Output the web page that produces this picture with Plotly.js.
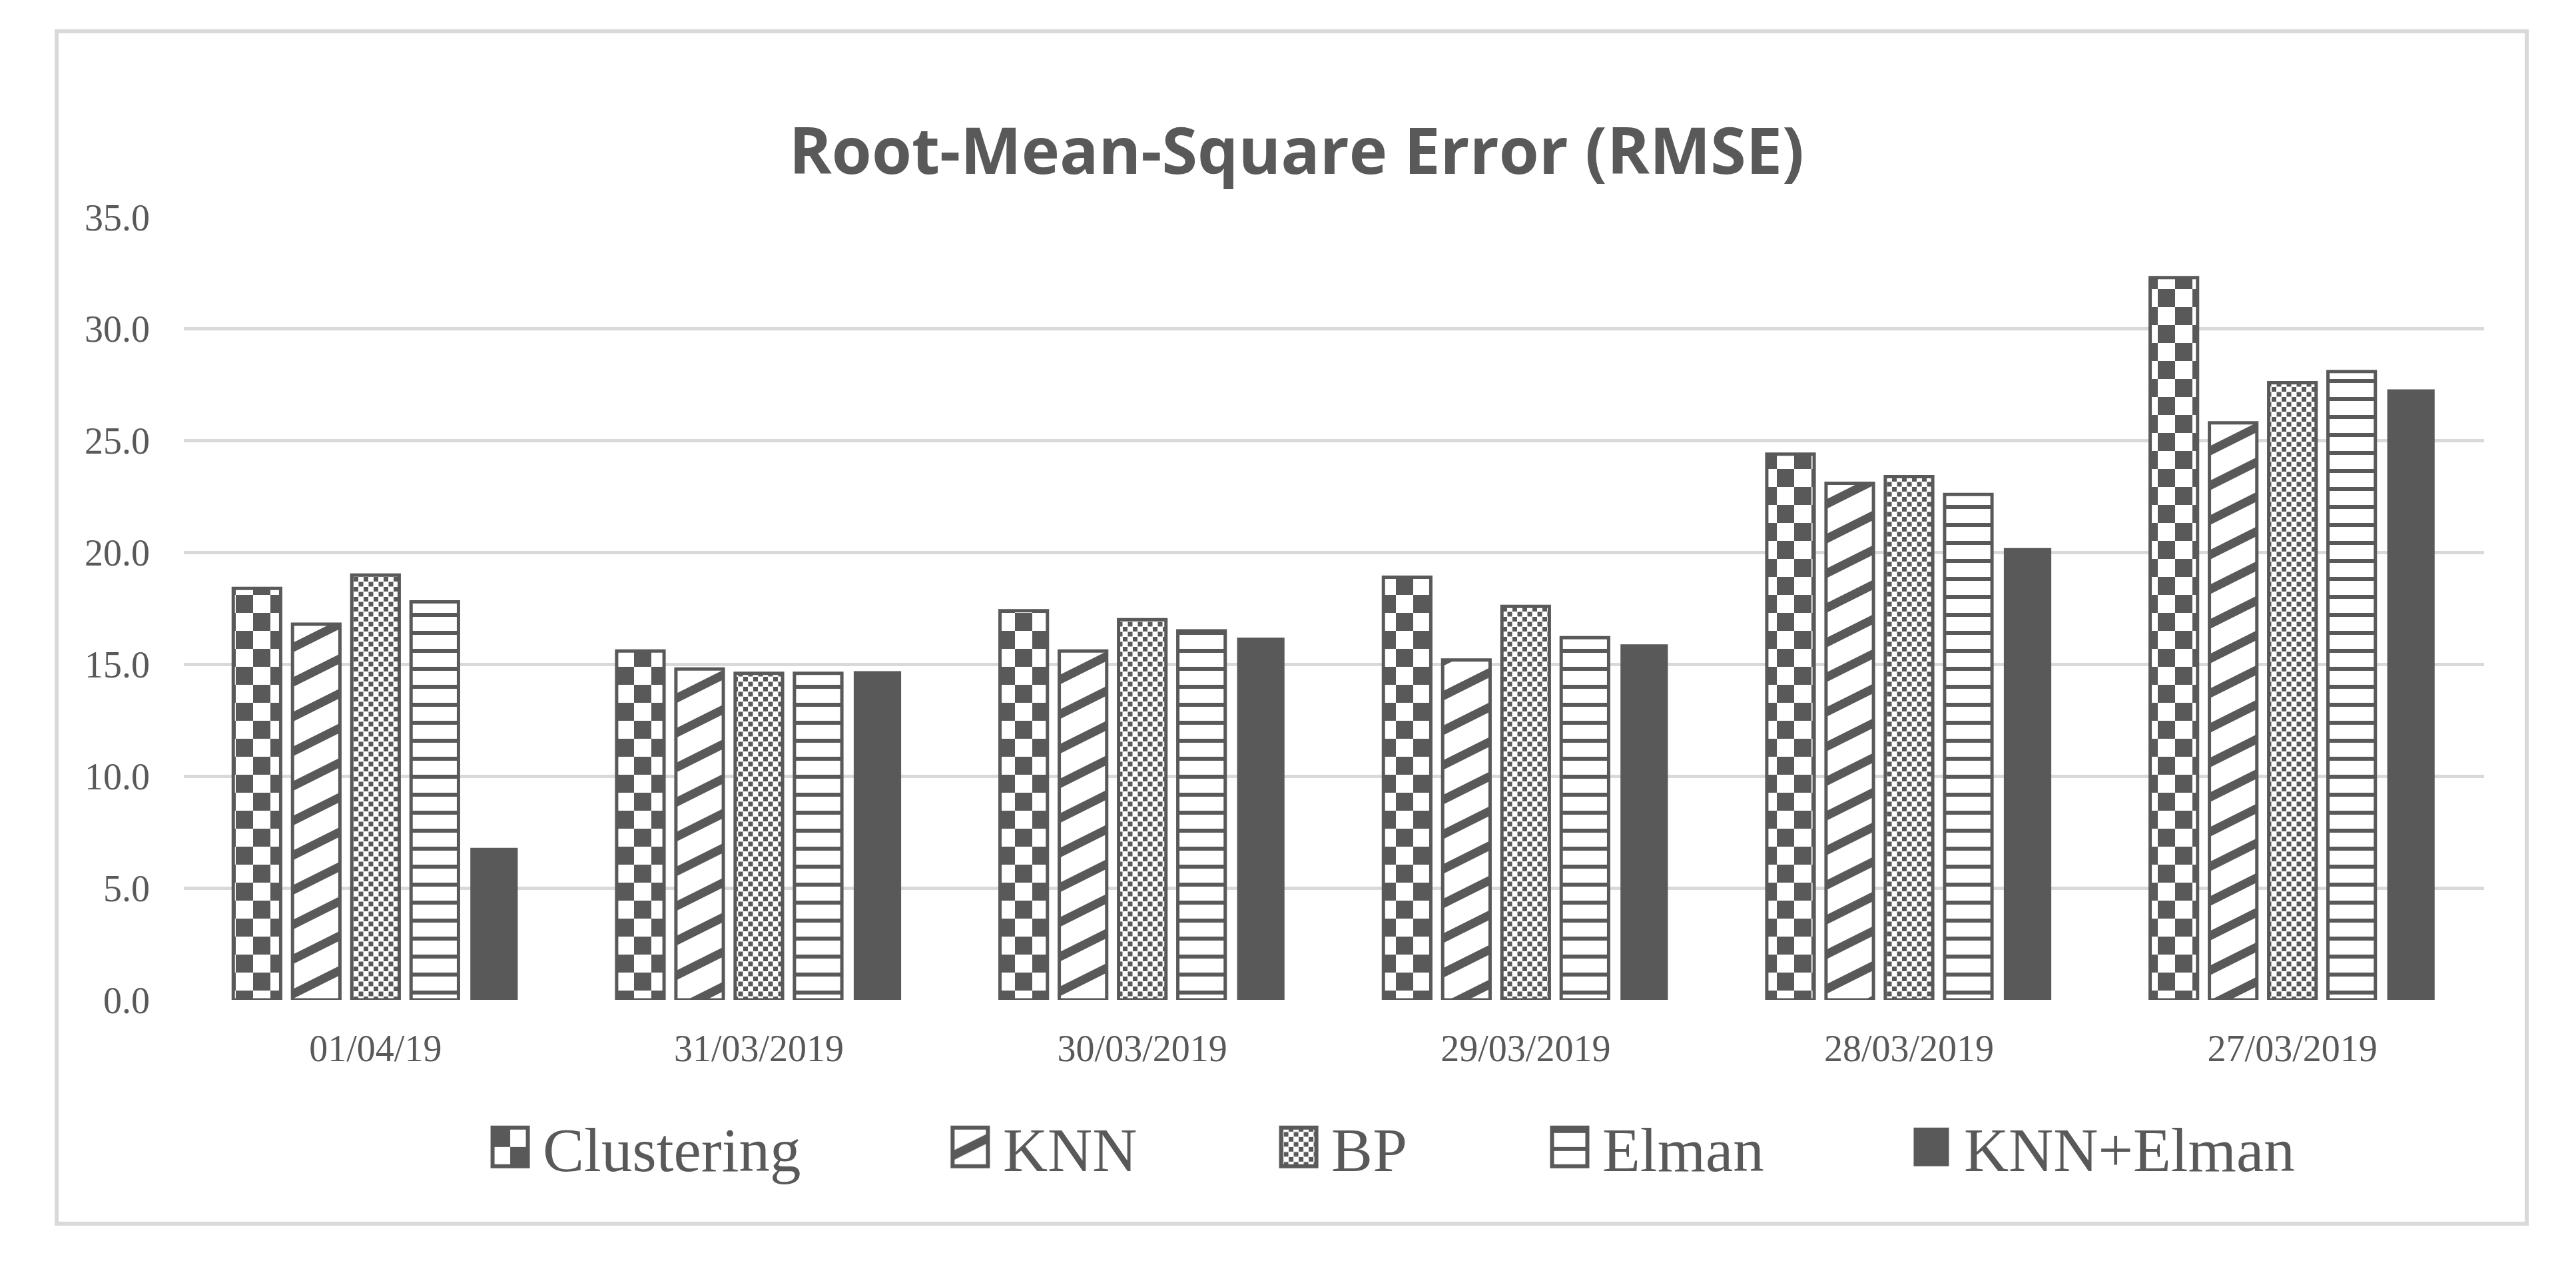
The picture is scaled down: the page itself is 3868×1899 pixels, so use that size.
<!DOCTYPE html>
<html><head><meta charset="utf-8">
<script src="https://cdn.plot.ly/plotly-3.0.1.min.js"></script>
<style>
html,body{margin:0;padding:0;background:#fff;}
#frame{position:absolute;left:82px;top:44px;width:3715px;height:1796px;border:6px solid #d9d9d9;box-sizing:border-box;}
#chart{width:3703px;height:1784px;}
</style></head><body>
<svg width="0" height="0" style="position:absolute;left:0;top:0">
<defs>
<pattern id="patChk" patternUnits="userSpaceOnUse" width="52" height="54">
<rect width="52" height="54" fill="#fff"/>
<rect x="0" y="0" width="26" height="27" fill="#595959"/>
<rect x="26" y="27" width="26" height="27" fill="#595959"/>
</pattern>
<pattern id="patDiag" patternUnits="userSpaceOnUse" width="104" height="52">
<rect width="104" height="52" fill="#fff"/>
<path d="M-104,52L104,-52M-104,104L208,-52M0,104L208,0" stroke="#595959" stroke-width="13" fill="none"/>
</pattern>
<pattern id="patDots" patternUnits="userSpaceOnUse" width="15" height="15">
<rect width="15" height="15" fill="#fff"/>
<rect x="0" y="0" width="7" height="7" fill="#595959"/>
<rect x="7.5" y="7.5" width="7" height="7" fill="#595959"/>
</pattern>
<pattern id="patHoriz" patternUnits="userSpaceOnUse" width="20" height="27">
<rect width="20" height="27" fill="#fff"/>
<rect x="0" y="0" width="20" height="6" fill="#595959"/>
</pattern>
</defs></svg>
<div id="frame"><div id="chart"></div></div>
<script>
// ---- data ----
const categories = ['01/04/19', '31/03/2019', '30/03/2019', '29/03/2019', '28/03/2019', '27/03/2019'];
const seriesNames = ['Clustering', 'KNN', 'BP', 'Elman', 'KNN+Elman'];
const clustering = [18.4, 15.6, 17.4, 18.9, 24.4, 32.3];
const knn        = [16.8, 14.8, 15.6, 15.2, 23.1, 25.8];
const bp         = [19.0, 14.6, 17.0, 17.6, 23.4, 27.6];
const elman      = [17.8, 14.6, 16.5, 16.2, 22.6, 28.1];
const knnElman   = [6.8, 14.7, 16.2, 15.9, 20.2, 27.3];
const yTickVals  = [0, 5, 10, 15, 20, 25, 30, 35];
const titleText  = 'Root-Mean-Square Error (RMSE)';

// ---- styling ----
const DARK = '#595959';
const GRID = '#d9d9d9';
const SERIF = 'Liberation Serif, Times New Roman, serif';
const values = [clustering, knn, bp, elman, knnElman];
const nativePatterns = ['+', '/', '.', '-', ''];
const customPatterns = ['patChk', 'patDiag', 'patDots', 'patHoriz', null];
const legendIds = ['legend', 'legend2', 'legend3', 'legend4', 'legend5'];
const legendX = [0.1277, 0.3277, 0.4705, 0.5883, 0.7455];

const data = seriesNames.map((name, i) => {
  const solid = customPatterns[i] === null;
  return {
    type: 'bar',
    name: name,
    x: categories,
    y: values[i],
    legend: legendIds[i],
    marker: {
      color: solid ? DARK : '#ffffff',
      line: {color: DARK, width: solid ? 0 : 5},
      pattern: solid ? {shape: ''} : {shape: nativePatterns[i], fgcolor: DARK, bgcolor: '#ffffff', size: 20, solidity: 0.35, fillmode: 'replace'}
    },
    hoverinfo: 'x+y+name'
  };
});

const layout = {
  width: 3703, height: 1784,
  paper_bgcolor: '#ffffff', plot_bgcolor: '#ffffff',
  margin: {l: 188, r: 61, t: 276, b: 333, pad: 0},
  barmode: 'group', bargap: 0.227, bargroupgap: 0.2,
  title: {
    text: titleText,
    font: {family: 'Open Sans, Liberation Sans, sans-serif', size: 97, color: DARK, weight: 700},
    x: 0.502, xref: 'container', xanchor: 'center',
    y: 0.9008, yref: 'container', yanchor: 'middle'
  },
  xaxis: {
    type: 'category',
    showgrid: false, zeroline: false, showline: false, ticks: '',
    tickfont: {family: SERIF, size: 56, color: DARK},
    ticklabelstandoff: 35
  },
  yaxis: {
    range: [0, 35], tickvals: yTickVals, tickformat: '.1f',
    showgrid: true, gridcolor: GRID, gridwidth: 5,
    zeroline: false, showline: false, ticks: '',
    tickfont: {family: SERIF, size: 56, color: DARK},
    ticklabelstandoff: 50
  },
  showlegend: true
};
legendIds.forEach((id, i) => {
  layout[id] = {
    orientation: 'h', x: legendX[i], xanchor: 'left', y: -0.188, yanchor: 'middle',
    bgcolor: 'rgba(0,0,0,0)', borderwidth: 0, itemwidth: 88,
    font: {family: SERIF, size: 93, color: DARK}
  };
});

function applyPatterns() {
  // bars: apply custom hatch patterns
  const traces = gd.querySelectorAll('.barlayer .trace.bars');
  traces.forEach((tr, i) => {
    const pid = customPatterns[i];
    if (!pid) return;
    tr.querySelectorAll('.point path').forEach(p => { p.style.fill = 'url(#' + pid + ')'; });
  });
  // legend symbols: enlarge and apply patterns
  gd.querySelectorAll('g.traces').forEach(item => {
    const t = item.querySelector('text.legendtext') || item.querySelector('text');
    if (!t) return;
    const i = seriesNames.indexOf(t.textContent.trim());
    if (i < 0) return;
    item.querySelectorAll('.legendpoints path').forEach(p => {
      p.setAttribute('d', 'M26.5,29H-26.5V-29H26.5Z');
      const pid = customPatterns[i];
      if (pid) {
        p.style.fill = 'url(#' + pid + ')';
        p.style.stroke = DARK;
        p.style.strokeWidth = '6px';
      } else {
        p.style.fill = DARK;
        p.style.stroke = DARK;
        p.style.strokeWidth = '0px';
      }
    });
  });
}

const gd = document.getElementById('chart');
Plotly.newPlot(gd, data, layout, {displayModeBar: false, responsive: false}).then(applyPatterns);
</script>
</body></html>
